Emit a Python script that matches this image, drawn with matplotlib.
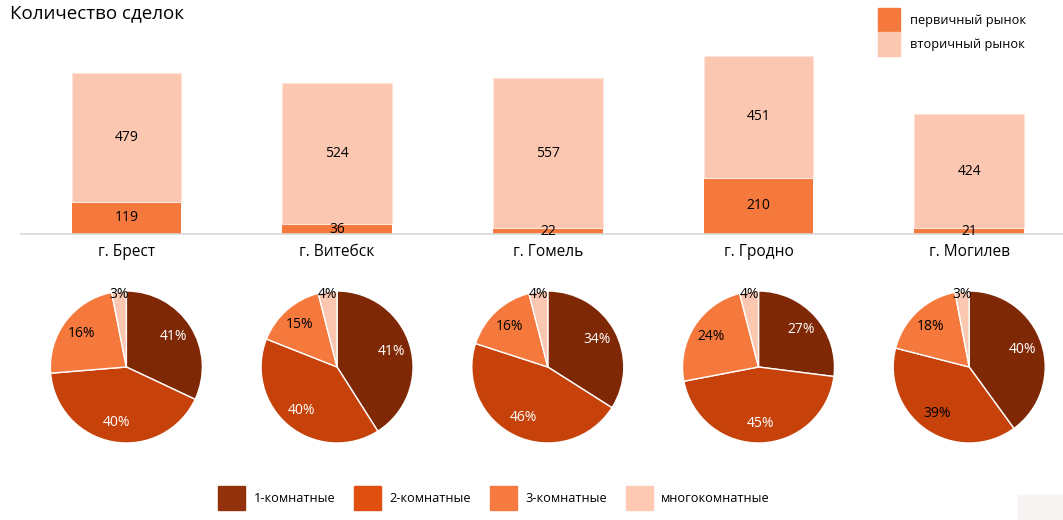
import numpy as np
import matplotlib
matplotlib.use("Agg")
import matplotlib.pyplot as plt
from matplotlib.patches import Patch, Rectangle

plt.rcParams['font.family'] = ['Open Sans', 'DejaVu Sans']

## data
cities = ["г. Брест", "г. Витебск", "г. Гомель", "г. Гродно", "г. Могилев"]
primary = [119, 36, 22, 210, 21]
secondary = [479, 524, 557, 451, 424]

room_types = ["1-комнатные", "2-комнатные", "3-комнатные", "многокомнатные"]
# printed percentages
room_pct = [[41, 40, 16, 3],
            [41, 40, 15, 4],
            [34, 46, 16, 4],
            [27, 45, 24, 4],
            [40, 39, 18, 3]]
# wedge sizes as drawn (Brest wedges do not follow its labels in the original)
room_wedges = [[32, 41.7, 23.2, 3.1],
               [41, 40, 15, 4],
               [34, 46, 16, 4],
               [27, 45, 24, 4],
               [40, 39, 18, 3]]

## colours
c_primary = "#f5793c"
c_secondary = "#fbc7b1"
pie_colors = ["#7f2805", "#c6420a", "#f5793c", "#fbc7b1"]
legend_colors = ["#93310c", "#e04e10", "#f77b40", "#fdc9b3"]
pct_colors = [["white", "white", "black", "black"],
              ["white", "white", "black", "black"],
              ["white", "white", "black", "black"],
              ["white", "white", "black", "black"],
              ["white", "black", "black", "black"]]

W, H = 1063, 520
fig = plt.figure(figsize=(W / 100, H / 100), dpi=100)

## stacked bars
ax = fig.add_axes([21 / W, (H - 234) / H, 1 - 21 / W, 214 / H])
x = np.arange(len(cities))
b1 = ax.bar(x, primary, width=0.52, color=c_primary, zorder=2)
b2 = ax.bar(x, secondary, width=0.52, bottom=primary, color=c_secondary,
            edgecolor="#fde3d8", linewidth=0.8, zorder=2)
ax.bar_label(b1, labels=[str(v) for v in primary], label_type='center', fontsize=10)
ax.bar_label(b2, labels=[str(v) for v in secondary], label_type='center', fontsize=10)
ax.set_xlim(-0.5, 4.445)
ax.set_ylim(0, 214 / 0.269)
ax.set_xticks(x)
ax.set_xticklabels(cities, fontsize=11.2)
ax.tick_params(axis='x', length=0, pad=7)
ax.set_yticks([])
for s in ['top', 'right', 'left']:
    ax.spines[s].set_visible(False)
ax.spines['bottom'].set_color("#d9d9d9")
ax.spines['bottom'].set_linewidth(1.2)

fig.text(10 / W, 1 - 13 / H, "Количество сделок", fontsize=13.5, va='center', ha='left')

fig.legend(handles=[Patch(color=c_primary), Patch(color=c_secondary)],
           labels=["первичный рынок", "вторичный рынок"],
           loc='upper left', bbox_to_anchor=(868 / W, 1 + 2 / H),
           frameon=False, fontsize=9.2, handlelength=1.7, handleheight=2.5,
           labelspacing=0.0, handletextpad=0.75, borderpad=0.3)

## pies under each bar
r_px = 76
cy = H - 367
for i in range(len(cities)):
    cx = ax.transData.transform((x[i], 0))[0]
    pax = fig.add_axes([(cx - r_px) / W, (cy - r_px) / H, 2 * r_px / W, 2 * r_px / H])
    wedges, _ = pax.pie(room_wedges[i], colors=pie_colors, startangle=90,
                        counterclock=False, radius=1,
                        wedgeprops=dict(edgecolor="white", linewidth=1))
    for j, w in enumerate(wedges):
        ang = np.deg2rad((w.theta1 + w.theta2) / 2)
        rr = 0.96 if room_wedges[i][j] < 6 else 0.74
        pax.text(rr * np.cos(ang), rr * np.sin(ang), f"{room_pct[i][j]}%",
                 ha='center', va='center', fontsize=10, color=pct_colors[i][j])
    pax.set_xlim(-1, 1)
    pax.set_ylim(-1, 1)
    pax.set_aspect('equal')
    pax.axis('off')

## bottom legend
fig.legend(handles=[Patch(color=c) for c in legend_colors], labels=room_types,
           loc='center', bbox_to_anchor=(494 / W, 1 - 498 / H), ncol=4,
           frameon=False, fontsize=9.2, handlelength=2.1, handleheight=2.5,
           handletextpad=0.65, columnspacing=1.5)

fig.patches.append(Rectangle((1018 / W, 0), 45 / W, 25 / H, transform=fig.transFigure,
                             color="#f7f3f2", zorder=0))

fig.savefig("out.png", dpi=100)
